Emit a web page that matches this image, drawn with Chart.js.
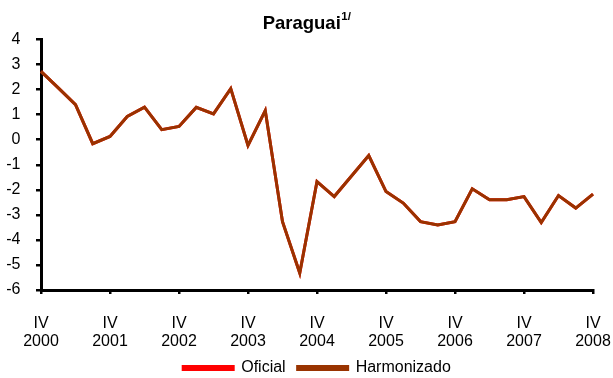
<!DOCTYPE html>
<html>
<head>
<meta charset="utf-8">
<script src="https://cdn.jsdelivr.net/npm/chart.js@4/dist/chart.umd.min.js"></script>
<style>
  html, body { margin: 0; padding: 0; background: #fff; }
  #wrap { width: 613px; height: 378px; position: relative; }
</style>
</head>
<body>
<div id="wrap"><canvas id="myChart"></canvas></div>
<script>
// quarterly series, IV/2000 .. IV/2008
const quarters = ['IV','I','II','III','IV','I','II','III','IV','I','II','III','IV','I','II','III','IV',
                  'I','II','III','IV','I','II','III','IV','I','II','III','IV','I','II','III','IV'];
const years = [2000,2001,2001,2001,2001,2002,2002,2002,2002,2003,2003,2003,2003,2004,2004,2004,2004,
               2005,2005,2005,2005,2006,2006,2006,2006,2007,2007,2007,2007,2008,2008,2008,2008];
const harmonizado = [2.73, 2.07, 1.40, -0.16, 0.13, 0.93, 1.30, 0.40, 0.53, 1.29, 1.03, 2.04, -0.23,
                     1.16, -3.27, -5.32, -1.67, -2.27, -1.45, -0.63, -2.07, -2.53, -3.27, -3.40, -3.27,
                     -1.96, -2.40, -2.40, -2.27, -3.31, -2.23, -2.73, -2.17];
// official figures coincide with the harmonized ones
const oficial = harmonizado.slice();
const yTicks = { min: -6, max: 4, step: 1 };

const FONT = '"Liberation Sans", Arial, sans-serif';
const labels = quarters.map((q, i) => [q, String(years[i])]);

// title with superscript note marker
const titlePlugin = {
  id: 'supTitle',
  afterDraw(chart) {
    const c = chart.ctx;
    c.save();
    c.fillStyle = '#000';
    c.textBaseline = 'alphabetic';
    c.font = 'bold 18.5px ' + FONT;
    const main = 'Paraguai';
    const w1 = c.measureText(main).width;
    c.font = 'bold 11.5px ' + FONT;
    const w2 = c.measureText('1/').width;
    const x0 = (chart.width - w1 - w2) / 2;
    c.font = 'bold 18.5px ' + FONT;
    c.fillText(main, x0, 28.5);
    c.font = 'bold 11.5px ' + FONT;
    c.fillText('1/', x0 + w1 + 0.5, 20);
    c.restore();
  }
};

// centre the legend under the plot area instead of the whole canvas
const legendShift = {
  id: 'legendShift',
  afterLayout(chart) {
    const lg = chart.legend;
    if (!lg) return;
    const dx = (chart.chartArea.left + chart.chartArea.right) / 2 - (lg.left + lg.right) / 2;
    lg.left += dx;
    lg.right += dx;
  }
};

const ctx = document.getElementById('myChart');

const chart = new Chart(ctx, {
  type: 'line',
  data: {
    labels: labels,
    datasets: [{
      label: 'Oficial',
      data: oficial,
      borderColor: '#FF0000',
      backgroundColor: '#FF0000',
      borderWidth: 3,
      pointRadius: 0,
      order: 2
    }, {
      label: 'Harmonizado',
      data: harmonizado,
      borderColor: '#993300',
      backgroundColor: '#993300',
      borderWidth: 3,
      pointRadius: 0,
      order: 1
    }]
  },
  options: {
    responsive: true,
    maintainAspectRatio: false,
    animation: false,
    layout: { padding: { top: 39.5, right: 20, left: 0, bottom: -8 } },
    plugins: {
      title: { display: false },
      tooltip: { enabled: false },
      legend: {
        position: 'bottom',
        labels: {
          font: { family: FONT, size: 16 },
          color: '#000',
          boxWidth: 50,
          boxHeight: 3,
          padding: 12,
          sort: (a, b) => a.datasetIndex - b.datasetIndex
        }
      }
    },
    scales: {
      x: {
        afterBuildTicks(scale) {
          // one labelled tick per year, on the fourth quarter
          scale.ticks = scale.ticks.filter(t => quarters[t.value] === 'IV');
        },
        afterFit(scale) {
          scale.height = 58;
          scale.paddingLeft = 0;
          scale.paddingRight = 0;
        },
        grid: { drawOnChartArea: false, drawTicks: true, tickLength: 4, color: '#000', lineWidth: 2.5 },
        border: { color: '#000', width: 3 },
        ticks: {
          autoSkip: false,
          maxRotation: 0,
          padding: 21,
          color: '#000',
          font: { family: FONT, size: 16, lineHeight: 1.1 },
          callback(value) { return this.getLabelForValue(value); }
        }
      },
      y: {
        min: yTicks.min,
        max: yTicks.max,
        afterFit(scale) { scale.width = 41; },
        grid: { drawOnChartArea: false, drawTicks: true, tickLength: 5, color: '#000', lineWidth: 2.5 },
        border: { color: '#000', width: 3 },
        ticks: {
          stepSize: yTicks.step,
          padding: 15.5,
          color: '#000',
          font: { family: FONT, size: 16 }
        }
      }
    }
  },
  plugins: [titlePlugin, legendShift]
});
</script>
</body>
</html>
